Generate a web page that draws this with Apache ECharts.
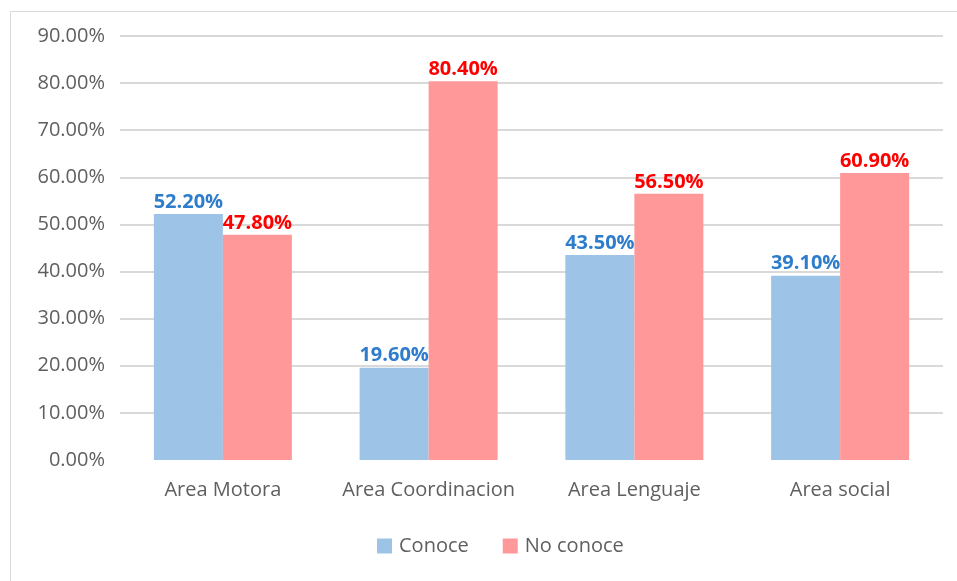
<!DOCTYPE html>
<html>
<head>
<meta charset="utf-8">
<style>
  html, body { margin: 0; padding: 0; background: #ffffff; }
  #chart { width: 957px; height: 581px; }
</style>
<script src="https://cdn.jsdelivr.net/npm/echarts@6/dist/echarts.min.js"></script>
</head>
<body>
<div id="chart"></div>
<script>
// Areas evaluated and share (in %) of respondents who know / do not know each
const categories = ['Area Motora', 'Area Coordinacion', 'Area Lenguaje', 'Area social'];
const conoce = [52.2, 19.6, 43.5, 39.1];
const noConoce = [47.8, 80.4, 56.5, 60.9];
const seriesNames = ['Conoce', 'No conoce'];

const FONT = '"Open Sans", "Noto Sans", sans-serif';
const pct = v => v.toFixed(2) + '%';

const chart = echarts.init(document.getElementById('chart'), null, { renderer: 'canvas' });
chart.setOption({
  animation: false,
  backgroundColor: '#ffffff',
  graphic: [{
    type: 'rect',
    left: 8, top: 9,
    shape: { width: 960, height: 600 },
    style: { fill: 'none', stroke: '#d9d9d9', lineWidth: 1 },
    silent: true
  }],
  grid: { left: 120, right: 14, top: 36, bottom: 121 },
  legend: {
    bottom: 20,
    left: 372,
    itemWidth: 15,
    itemHeight: 15,
    itemGap: 34,
    icon: 'rect',
    textStyle: { fontFamily: FONT, fontSize: 20, color: '#5f5f5f', padding: [0, 0, 0, 2] },
    data: seriesNames
  },
  xAxis: {
    type: 'category',
    data: categories,
    axisTick: { show: false },
    axisLine: { show: true, lineStyle: { color: '#ffffff', width: 3 } },
    axisLabel: { interval: 0, fontFamily: FONT, fontSize: 20, color: '#5f5f5f', margin: 20 }
  },
  yAxis: {
    type: 'value',
    min: 0, max: 90, interval: 10,
    axisLine: { show: false },
    axisTick: { show: false },
    axisLabel: { fontFamily: FONT, fontSize: 20, color: '#5f5f5f', margin: 15, formatter: pct },
    splitLine: { lineStyle: { color: '#d9d9d9', width: 2 } }
  },
  series: [
    {
      name: seriesNames[0],
      type: 'bar',
      data: conoce,
      barWidth: 69,
      barGap: '0%',
      itemStyle: { color: '#9dc3e6' },
      label: {
        show: true, position: 'top', distance: 2,
        formatter: p => pct(p.value),
        fontFamily: FONT, fontSize: 20, fontWeight: 'bold', color: '#2e7dcc'
      }
    },
    {
      name: seriesNames[1],
      type: 'bar',
      data: noConoce,
      barWidth: 69,
      barGap: '0%',
      itemStyle: { color: '#ff9999' },
      label: {
        show: true, position: 'top', distance: 2,
        formatter: p => pct(p.value),
        fontFamily: FONT, fontSize: 20, fontWeight: 'bold', color: '#ff0000'
      }
    }
  ]
});
</script>
</body>
</html>
